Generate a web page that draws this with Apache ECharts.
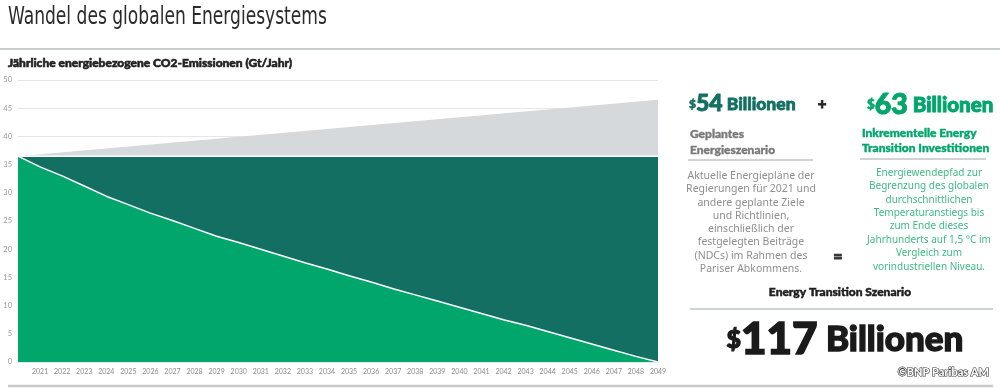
<!DOCTYPE html>
<html><head><meta charset="utf-8">
<script src="https://cdn.jsdelivr.net/npm/echarts@6/dist/echarts.min.js"></script>
<style>html,body{margin:0;padding:0;background:#fff}#c{width:1000px;height:388px}</style>
</head><body><div id="c"></div>
<script>
// Data
const basisYears = [2020, 2049];
const basisValues = [36.5, 46.5];
const plannedYears = [2020, 2049];
const plannedValues = [36.5, 36.5];
const etYears = [2020,2021,2022,2023,2024,2025,2026,2027,2028,2029,2030,2031,2032,2033,2034,2035,2036,2037,2038,2039,2040,2041,2042,2043,2044,2045,2046,2047,2048,2049];
const etValues = [36.5,34.6,33.0,31.2,29.4,27.9,26.4,25.1,23.7,22.3,21.2,20.0,18.8,17.6,16.5,15.3,14.2,13.0,11.9,10.8,9.7,8.6,7.5,6.5,5.4,4.3,3.2,2.1,1.0,0];
const yTicks = [0,5,10,15,20,25,30,35,40,45,50];

const greyFill = '#D5D9DB', teal = '#126F61', green = '#00A66B';
const heavy = 'Lato';
const pair = (xs, ys) => xs.map((x, i) => [x, ys[i]]);

const chart = echarts.init(document.getElementById('c'), null, {renderer: 'canvas'});
const txt = (x, y, text, style, extra) => Object.assign({type: 'text', x, y, silent: true,
  style: Object.assign({text, fontFamily: heavy, fontWeight: 900, fontSize: 11, fill: '#222', textAlign: 'left', textVerticalAlign: 'middle'}, style)}, extra || {});
const bold = (fill, w) => ({fill, stroke: fill, lineWidth: w});
const tok = (size, fill, w, extra) => Object.assign({fontFamily: heavy, fontWeight: 900, fontSize: size, fill, stroke: fill, lineWidth: w, verticalAlign: 'middle'}, extra || {});
const line = (x1, y1, x2, y2, color, w) => ({type: 'line', silent: true, shape: {x1, y1, x2, y2}, style: {stroke: color, lineWidth: w}});

const greyDesc = ['Aktuelle Energiepläne der','Regierungen für 2021 und','andere geplante Ziele','und Richtlinien,','einschließlich der','festgelegten Beiträge','(NDCs) im Rahmen des','Pariser Abkommens.'];
const greenDesc = ['Energiewendepfad zur','Begrenzung des globalen','durchschnittlichen','Temperaturanstiegs bis','zum Ende dieses','Jahrhunderts auf 1,5 °C im','Vergleich zum','vorindustriellen Niveau.'];

chart.setOption({
  animation: false,
  grid: {left: 18, right: 342, top: 80, bottom: 26},
  xAxis: {type: 'value', min: 2020, max: 2049, interval: 1,
    axisLine: {show: false}, axisTick: {show: false}, splitLine: {show: false},
    axisLabel: {fontSize: 7, color: '#8a8a8a', fontFamily: 'Lato', margin: 6,
      formatter: v => v === 2020 ? '' : String(v)}},
  yAxis: {type: 'value', min: yTicks[0], max: yTicks[yTicks.length - 1], interval: 5,
    axisLine: {show: false}, axisTick: {show: false},
    splitLine: {lineStyle: {color: '#e6e6e6', width: 1}},
    axisLabel: {fontSize: 7.5, color: '#9a9a9a', fontFamily: 'Lato', margin: 6}},
  series: [
    {type: 'line', data: pair(basisYears, basisValues), symbol: 'none', lineStyle: {width: 0}, areaStyle: {color: greyFill, opacity: 1}},
    {type: 'line', data: pair(plannedYears, plannedValues), symbol: 'none', lineStyle: {width: 1.5, color: '#fff'}, areaStyle: {color: teal, opacity: 1}},
    {type: 'line', data: pair(etYears, etValues), symbol: 'none', lineStyle: {width: 1.5, color: '#fff'}, areaStyle: {color: green, opacity: 1}}
  ],
  graphic: [
    txt(8, 17, 'Wandel des globalen Energiesystems', {fontFamily: "'DejaVu Sans Condensed', 'Liberation Sans Narrow', sans-serif", fontWeight: 300, fontSize: 25, fill: '#2a2a2a'}, {scaleX: 0.76}),
    line(0, 49, 1000, 49, '#c8cdd0', 2),
    txt(8, 63, 'Jährliche energiebezogene CO2-Emissionen (Gt/Jahr)', Object.assign({fontSize: 12}, bold('#222', 0.6))),
    txt(451, 135, '{a|Basis Energieszenario:}{i| 46,5 Gt/yr}', {rich: {a: tok(10.5, '#2a2a2a', 0.5), i: tok(10.5, '#2a2a2a', 0.5, {fontStyle: 'italic'})}}),
    txt(451, 170, 'Geplantes Energieszenario: 36,5 Gt/yr', Object.assign({fontSize: 10.5}, bold('#fff', 0.5))),
    txt(450, 297, 'Energy Transition Szenario: -0,4 Gt/yr', Object.assign({fontSize: 10.5}, bold('#fff', 0.5))),
    // right panel
    txt(689, 104, '{d|$}{n|54}{b| Billionen}', {rich: {d: tok(12, teal, 0.6), n: tok(23, teal, 0.9), b: tok(17.5, teal, 0.8)}}),
    txt(822, 104, '+', Object.assign({fontSize: 15, textAlign: 'center'}, bold('#222', 0.8))),
    txt(867, 105, '{d|$}{n|63}{b| Billionen}', {rich: {d: tok(13.5, green, 0.6), n: tok(28.5, green, 1), b: tok(20.5, green, 0.9)}}),
    txt(690, 134, 'Geplantes', Object.assign({fontSize: 12}, bold('#7a7a7a', 0.4))),
    txt(690, 150, 'Energieszenario', Object.assign({fontSize: 12}, bold('#7a7a7a', 0.4))),
    line(688, 160, 813, 160, '#cfd3d6', 2),
    txt(862, 133, 'Inkrementelle Energy', Object.assign({fontSize: 12}, bold(green, 0.4))),
    txt(862, 148, 'Transition Investitionen', Object.assign({fontSize: 12}, bold(green, 0.4))),
    line(860, 159, 986, 159, '#cfd3d6', 2),
    ...greyDesc.map((s, i) => txt(751, 176 + i * 13.3, s, {fontFamily: 'Noto Sans', fontWeight: 'normal', fontSize: 10.5, fill: '#8f8f8f', textAlign: 'center'})),
    ...greenDesc.map((s, i) => txt(929, 173 + i * 13.4, s, {fontFamily: 'Noto Sans', fontWeight: 'normal', fontSize: 10, fill: '#3fba85', textAlign: 'center'})),
    txt(838, 257, '=', Object.assign({fontSize: 16, textAlign: 'center'}, bold('#333', 0.8))),
    txt(840, 292, 'Energy Transition Szenario', Object.assign({fontSize: 12, textAlign: 'center'}, bold('#1e1e1e', 0.5))),
    line(690, 309, 993, 309, '#cfd3d6', 2),
    txt(845, 340, '{d|$}{n|117}{b| Billionen}', {textAlign: 'center', rich: {d: tok(25, '#1a1a1a', 1.2), n: tok(44, '#1a1a1a', 1.6), b: tok(35, '#1a1a1a', 1.4)}}),
    txt(989, 372, '©BNP Paribas AM', {fontSize: 11, fill: '#fff', stroke: '#333', lineWidth: 1.2, textAlign: 'right'}),
    line(8, 386, 993, 386, '#c5cacd', 2.5)
  ]
});
</script></body></html>
